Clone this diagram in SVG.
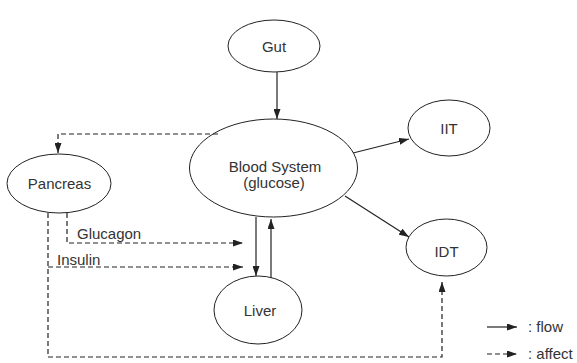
<svg xmlns="http://www.w3.org/2000/svg" width="577" height="363" viewBox="0 0 577 363">
  <style>
    .node { fill: #ffffff; stroke: #222; stroke-width: 1; }
    .lbl { font-family: "Liberation Sans", Arial, sans-serif; font-size: 15px; fill: #333; text-anchor: middle; }
    .txt { font-family: "Liberation Sans", Arial, sans-serif; font-size: 15px; fill: #333; }
    .flow { fill: none; stroke: #222; stroke-width: 1.2; }
    .affect { fill: none; stroke: #222; stroke-width: 1.2; stroke-dasharray: 5,3; }
  </style>
  <defs>
    <marker id="ah" viewBox="0 0 10 7" refX="10" refY="3.5" markerWidth="10" markerHeight="7" markerUnits="userSpaceOnUse" orient="auto">
      <path d="M0,0 L10,3.5 L0,7 Z" fill="#222"/>
    </marker>
  </defs>
  <rect width="577" height="363" fill="#ffffff"/>

  <g id="gut">
    <ellipse class="node" cx="274" cy="46" rx="46" ry="26"/>
    <text class="lbl" x="274" y="52">Gut</text>
  </g>
  <g id="blood">
    <ellipse class="node" cx="273.5" cy="168" rx="84" ry="49"/>
    <text class="lbl" x="275" y="172">Blood System</text>
    <text class="lbl" x="274" y="188">(glucose)</text>
  </g>
  <g id="pancreas">
    <ellipse class="node" cx="59" cy="183.5" rx="52" ry="29.5"/>
    <text class="lbl" x="59.5" y="189">Pancreas</text>
  </g>
  <g id="iit">
    <ellipse class="node" cx="449" cy="128" rx="41" ry="28"/>
    <text class="lbl" x="449" y="134">IIT</text>
  </g>
  <g id="idt">
    <ellipse class="node" cx="446.5" cy="247.5" rx="40.5" ry="28.5"/>
    <text class="lbl" x="446.5" y="257">IDT</text>
  </g>
  <g id="liver">
    <ellipse class="node" cx="258" cy="310" rx="44" ry="34"/>
    <text class="lbl" x="260" y="316">Liver</text>
  </g>

  <g id="connectors">
    <path class="flow" d="M277,72 L277,119" marker-end="url(#ah)"/>
    <path class="flow" d="M353,153 L409,139" marker-end="url(#ah)"/>
    <path class="flow" d="M345,196 L409,237" marker-end="url(#ah)"/>
    <path class="flow" d="M256,217 L256,276" marker-end="url(#ah)"/>
    <path class="flow" d="M271,278 L271,219" marker-end="url(#ah)"/>
    <path class="affect" d="M218,134 L58,134 L58,153" marker-end="url(#ah)"/>
    <path class="affect" d="M67,213 L67,243 L243,243" marker-end="url(#ah)"/>
    <path class="affect" d="M48,213 L48,357 L442,357 L442,282" marker-end="url(#ah)"/>
    <path class="affect" d="M48,267 L243,267" marker-end="url(#ah)"/>
    <text class="txt" x="77" y="239">Glucagon</text>
    <text class="txt" x="57" y="265">Insulin</text>
  </g>

  <g id="legend">
    <path class="flow" d="M487,327 L517,327" marker-end="url(#ah)"/>
    <text class="txt" x="528" y="332">: flow</text>
    <path class="affect" d="M487,354 L517,354" marker-end="url(#ah)"/>
    <text class="txt" x="528" y="359">: affect</text>
  </g>
</svg>
